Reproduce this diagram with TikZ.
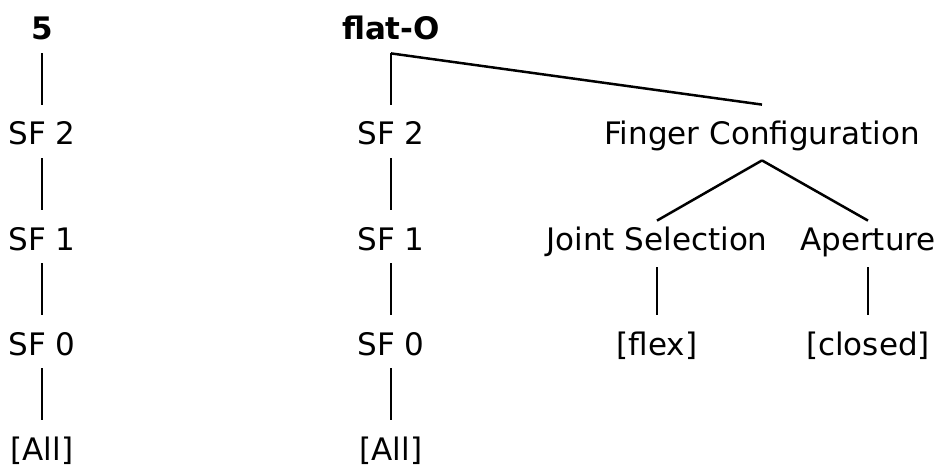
\documentclass[tikz,border=0pt]{standalone}
\usepackage{fontspec}
\setmainfont{DejaVu Sans}
\usetikzlibrary{positioning}

\begin{document}
\begin{tikzpicture}[x=0.5pt, y=-0.5pt,
  lbl/.style={font=\fontsize{15.5}{18}\selectfont, inner sep=0pt, anchor=base,
    text height=20pt, text depth=6.5pt},
  rootlbl/.style={lbl, font=\fontsize{15.5}{18}\selectfont\bfseries},
  branch/.style={line width=1.25pt}]
  \useasboundingbox (0,0) rectangle (938,465);
  % sign 5
  \node[rootlbl] (five) at (42,40) {5};
  \node[lbl] (fivesftwo) at (42,145) {SF 2};
  \node[lbl] (fivesfone) at (42,250) {SF 1};
  \node[lbl] (fivesfzero) at (42,355) {SF 0};
  \node[lbl] (fiveall) at (42,460) {[All]};
  \draw[branch] (five.south) -- (fivesftwo.north);
  \draw[branch] (fivesftwo.south) -- (fivesfone.north);
  \draw[branch] (fivesfone.south) -- (fivesfzero.north);
  \draw[branch] (fivesfzero.south) -- (fiveall.north);
  % sign flat-O
  \node[rootlbl] (flato) at (391,40) {flat-O};
  \node[lbl] (flatsftwo) at (391,145) {SF 2};
  \node[lbl] (flatsfone) at (391,250) {SF 1};
  \node[lbl] (flatsfzero) at (391,355) {SF 0};
  \node[lbl] (flatall) at (391,460) {[All]};
  \draw[branch] (flato.south) -- (flatsftwo.north);
  \draw[branch] (flatsftwo.south) -- (flatsfone.north);
  \draw[branch] (flatsfone.south) -- (flatsfzero.north);
  \draw[branch] (flatsfzero.south) -- (flatall.north);
  % finger configuration branch
  \node[lbl, text depth=7.5pt] (fingconf) at (762,145) {Finger Configuration};
  \node[lbl, text depth=8.5pt] (jointsel) at (657,250) {Joint Selection};
  \node[lbl, text depth=8.5pt] (aperture) at (868,250) {Aperture};
  \node[lbl] (flex) at (657,355) {[flex]};
  \node[lbl] (closed) at (868,355) {[closed]};
  \draw[branch] (flato.south) -- (fingconf.north);
  \draw[branch] (fingconf.south) -- ([yshift=-5.5pt]jointsel.north);
  \draw[branch] (fingconf.south) -- ([yshift=-5.5pt]aperture.north);
  \draw[branch] (jointsel.south) -- (flex.north);
  \draw[branch] (aperture.south) -- (closed.north);
\end{tikzpicture}
\end{document}
